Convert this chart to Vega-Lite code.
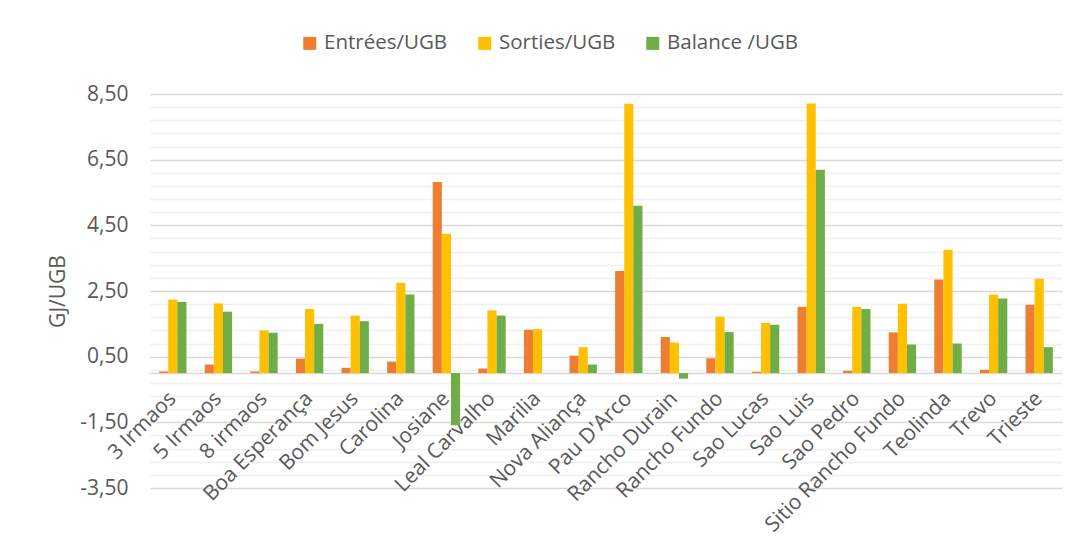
{
  "$schema": "https://vega.github.io/schema/vega-lite/v6.json",
  "autosize": {"type": "none"},
  "padding": {"left": 150, "top": 94, "right": 16, "bottom": 60},
  "width": 912,
  "height": 394,
  "background": "white",
  "config": {
    "view": {"stroke": null},
    "font": "Open Sans"
  },
  "data": {
    "values": [
      {"name": "3 Irmaos", "series": "Entrées/UGB", "value": 0.05},
      {"name": "3 Irmaos", "series": "Sorties/UGB", "value": 2.24},
      {"name": "3 Irmaos", "series": "Balance /UGB", "value": 2.17},
      {"name": "5 Irmaos", "series": "Entrées/UGB", "value": 0.26},
      {"name": "5 Irmaos", "series": "Sorties/UGB", "value": 2.12},
      {"name": "5 Irmaos", "series": "Balance /UGB", "value": 1.87},
      {"name": "8 irmaos", "series": "Entrées/UGB", "value": 0.05},
      {"name": "8 irmaos", "series": "Sorties/UGB", "value": 1.30},
      {"name": "8 irmaos", "series": "Balance /UGB", "value": 1.23},
      {"name": "Boa Esperança", "series": "Entrées/UGB", "value": 0.44},
      {"name": "Boa Esperança", "series": "Sorties/UGB", "value": 1.95},
      {"name": "Boa Esperança", "series": "Balance /UGB", "value": 1.50},
      {"name": "Bom Jesus", "series": "Entrées/UGB", "value": 0.16},
      {"name": "Bom Jesus", "series": "Sorties/UGB", "value": 1.75},
      {"name": "Bom Jesus", "series": "Balance /UGB", "value": 1.58},
      {"name": "Carolina", "series": "Entrées/UGB", "value": 0.35},
      {"name": "Carolina", "series": "Sorties/UGB", "value": 2.75},
      {"name": "Carolina", "series": "Balance /UGB", "value": 2.39},
      {"name": "Josiane", "series": "Entrées/UGB", "value": 5.82},
      {"name": "Josiane", "series": "Sorties/UGB", "value": 4.24},
      {"name": "Josiane", "series": "Balance /UGB", "value": -1.59},
      {"name": "Leal Carvalho", "series": "Entrées/UGB", "value": 0.14},
      {"name": "Leal Carvalho", "series": "Sorties/UGB", "value": 1.91},
      {"name": "Leal Carvalho", "series": "Balance /UGB", "value": 1.75},
      {"name": "Marilia", "series": "Entrées/UGB", "value": 1.32},
      {"name": "Marilia", "series": "Sorties/UGB", "value": 1.34},
      {"name": "Marilia", "series": "Balance /UGB", "value": 0.0},
      {"name": "Nova Aliança", "series": "Entrées/UGB", "value": 0.53},
      {"name": "Nova Aliança", "series": "Sorties/UGB", "value": 0.79},
      {"name": "Nova Aliança", "series": "Balance /UGB", "value": 0.26},
      {"name": "Pau D'Arco", "series": "Entrées/UGB", "value": 3.11},
      {"name": "Pau D'Arco", "series": "Sorties/UGB", "value": 8.20},
      {"name": "Pau D'Arco", "series": "Balance /UGB", "value": 5.10},
      {"name": "Rancho Durain", "series": "Entrées/UGB", "value": 1.10},
      {"name": "Rancho Durain", "series": "Sorties/UGB", "value": 0.93},
      {"name": "Rancho Durain", "series": "Balance /UGB", "value": -0.17},
      {"name": "Rancho Fundo", "series": "Entrées/UGB", "value": 0.45},
      {"name": "Rancho Fundo", "series": "Sorties/UGB", "value": 1.72},
      {"name": "Rancho Fundo", "series": "Balance /UGB", "value": 1.25},
      {"name": "Sao Lucas", "series": "Entrées/UGB", "value": 0.04},
      {"name": "Sao Lucas", "series": "Sorties/UGB", "value": 1.53},
      {"name": "Sao Lucas", "series": "Balance /UGB", "value": 1.47},
      {"name": "Sao Luis", "series": "Entrées/UGB", "value": 2.02},
      {"name": "Sao Luis", "series": "Sorties/UGB", "value": 8.21},
      {"name": "Sao Luis", "series": "Balance /UGB", "value": 6.19},
      {"name": "Sao Pedro", "series": "Entrées/UGB", "value": 0.07},
      {"name": "Sao Pedro", "series": "Sorties/UGB", "value": 2.02},
      {"name": "Sao Pedro", "series": "Balance /UGB", "value": 1.95},
      {"name": "Sitio Rancho Fundo", "series": "Entrées/UGB", "value": 1.24},
      {"name": "Sitio Rancho Fundo", "series": "Sorties/UGB", "value": 2.11},
      {"name": "Sitio Rancho Fundo", "series": "Balance /UGB", "value": 0.87},
      {"name": "Teolinda", "series": "Entrées/UGB", "value": 2.85},
      {"name": "Teolinda", "series": "Sorties/UGB", "value": 3.76},
      {"name": "Teolinda", "series": "Balance /UGB", "value": 0.90},
      {"name": "Trevo", "series": "Entrées/UGB", "value": 0.10},
      {"name": "Trevo", "series": "Sorties/UGB", "value": 2.39},
      {"name": "Trevo", "series": "Balance /UGB", "value": 2.27},
      {"name": "Trieste", "series": "Entrées/UGB", "value": 2.08},
      {"name": "Trieste", "series": "Sorties/UGB", "value": 2.87},
      {"name": "Trieste", "series": "Balance /UGB", "value": 0.79}
    ]
  },
  "mark": {"type": "bar"},
  "encoding": {
    "x": {
      "field": "name",
      "type": "nominal",
      "sort": null,
      "scale": {"paddingInner": 0.4, "paddingOuter": 0.2},
      "axis": {
        "title": null,
        "orient": "bottom",
        "offset": -114.9,
        "domainColor": "#d9d9d9",
        "domainWidth": 1.5,
        "ticks": false,
        "labelAngle": -45,
        "labelAlign": "right",
        "labelBaseline": "middle",
        "labelFontSize": 21,
        "labelColor": "#595959",
        "labelPadding": 22,
        "labelOverlap": false,
        "labelLimit": 400,
        "grid": false
      }
    },
    "xOffset": {
      "field": "series",
      "type": "nominal",
      "sort": ["Entrées/UGB", "Sorties/UGB", "Balance /UGB"]
    },
    "y": {
      "field": "value",
      "type": "quantitative",
      "scale": {"domain": [-3.5, 8.5], "nice": false, "zero": false},
      "axis": {
        "title": "GJ/UGB",
        "titleFontSize": 21,
        "titleColor": "#595959",
        "titleFontWeight": "normal",
        "titlePadding": 11,
        "values": [-3.5, -3.1, -2.7, -2.3, -1.9, -1.5, -1.1, -0.7, -0.3, 0.1, 0.5, 0.9, 1.3, 1.7, 2.1, 2.5, 2.9, 3.3, 3.7, 4.1, 4.5, 4.9, 5.3, 5.7, 6.1, 6.5, 6.9, 7.3, 7.7, 8.1, 8.5],
        "labelExpr": "abs((datum.value + 3.5) / 2 - round((datum.value + 3.5) / 2)) < 0.01 ? replace(replace(format(datum.value, '.2f'), '.', ','), '−', '-') : ''",
        "labelFontSize": 21,
        "labelColor": "#595959",
        "labelPadding": 22,
        "ticks": false,
        "domain": false,
        "grid": true,
        "gridWidth": 1.4,
        "gridColor": {
          "condition": {"test": "abs((datum.value + 3.5) / 2 - round((datum.value + 3.5) / 2)) < 0.01", "value": "#d9d9d9"},
          "value": "#f0f0f0"
        }
      }
    },
    "color": {
      "field": "series",
      "type": "nominal",
      "sort": ["Entrées/UGB", "Sorties/UGB", "Balance /UGB"],
      "scale": {
        "domain": ["Entrées/UGB", "Sorties/UGB", "Balance /UGB"],
        "range": ["#ED7D31", "#FFC000", "#70AD47"]
      },
      "legend": {
        "title": null,
        "orient": "none",
        "direction": "horizontal",
        "legendX": 149.5,
        "legendY": -61,
        "symbolType": "square",
        "symbolSize": 169,
        "symbolStrokeWidth": 0,
        "symbolOpacity": 1,
        "labelFontSize": 20.5,
        "labelColor": "#595959",
        "labelOffset": 4,
        "columnPadding": 27
      }
    }
  }
}
